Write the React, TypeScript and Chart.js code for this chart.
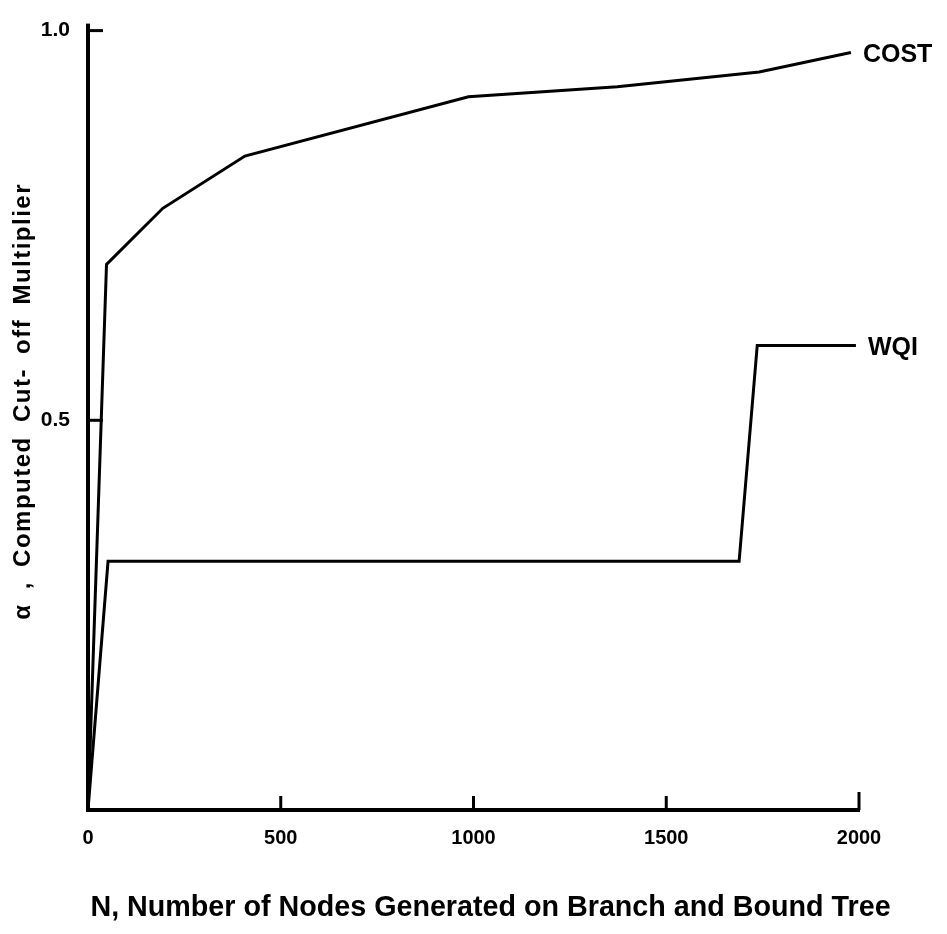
import React, { useEffect, useRef } from 'react';
import { Chart, registerables } from 'chart.js';

Chart.register(...registerables);

// ---- data ----
const costX = [0, 48, 194, 407, 987, 1373, 1741, 1979];
const costY = [0, 0.7, 0.772, 0.839, 0.915, 0.928, 0.947, 0.972];
const wqiX = [0, 52, 1689, 1736, 1992];
const wqiY = [0, 0.319, 0.319, 0.596, 0.596];
const seriesNames = ['COST', 'WQI'];
const xTicks = [0, 500, 1000, 1500, 2000];
const yTicks = [0.5, 1.0];
const xTitle = 'N, Number of Nodes Generated on Branch and Bound Tree';
const yTitle = 'α , Computed Cut- off Multiplier';

const FONT = '"Liberation Sans", Arial, Helvetica, sans-serif';

const toPoints = (xs: number[], ys: number[]) => xs.map((x, i) => ({ x, y: ys[i] }));

const decorPlugin = {
  id: 'decor',
  afterDraw(chart: any) {
    const ctx = chart.ctx as CanvasRenderingContext2D;
    const xs = chart.scales.x;
    const ys = chart.scales.y;
    const area = chart.chartArea;
    ctx.save();
    ctx.strokeStyle = '#000';
    // y axis overshoot above the top tick
    ctx.lineWidth = 4;
    ctx.beginPath();
    ctx.moveTo(area.left, area.top);
    ctx.lineTo(area.left, area.top - 7);
    ctx.stroke();
    // inward tick marks
    ctx.lineWidth = 3;
    yTicks.forEach((v) => {
      const y = ys.getPixelForValue(v);
      ctx.beginPath();
      ctx.moveTo(area.left, y);
      ctx.lineTo(area.left + 15, y);
      ctx.stroke();
    });
    xTicks.filter((v) => v > 0).forEach((v) => {
      const x = xs.getPixelForValue(v);
      ctx.beginPath();
      ctx.moveTo(x, area.bottom);
      ctx.lineTo(x, area.bottom - (v === 2000 ? 18 : 14));
      ctx.stroke();
    });
    // series labels at line ends
    ctx.fillStyle = '#000';
    ctx.font = `bold 25px ${FONT}`;
    ctx.textBaseline = 'middle';
    ctx.textAlign = 'left';
    chart.data.datasets.forEach((ds: any) => {
      const last = ds.data[ds.data.length - 1];
      ctx.fillText(ds.label, xs.getPixelForValue(last.x) + 12, ys.getPixelForValue(last.y) + 3);
    });
    // x axis title
    ctx.font = `bold 28.7px ${FONT}`;
    ctx.textAlign = 'center';
    ctx.fillText(xTitle, (area.left + area.right) / 2 + 17, area.bottom + 98);
    // y axis title
    ctx.translate(23, (area.top + area.bottom) / 2 - 19);
    ctx.rotate(-Math.PI / 2);
    ctx.font = `bold 24px ${FONT}`;
    (ctx as any).letterSpacing = '1.5px';
    (ctx as any).wordSpacing = '6px';
    ctx.fillText(yTitle, 0, 0);
    ctx.restore();
  },
};

export default function App() {
  const canvasRef = useRef<HTMLCanvasElement | null>(null);

  useEffect(() => {
    if (!canvasRef.current) return;
    Chart.defaults.color = '#000';
    const chart = new Chart(canvasRef.current, {
      type: 'line',
      data: {
        datasets: [
          {
            label: seriesNames[0],
            data: toPoints(costX, costY),
            borderColor: '#000',
            borderWidth: 3,
            pointRadius: 0,
            tension: 0,
            fill: false,
          },
          {
            label: seriesNames[1],
            data: toPoints(wqiX, wqiY),
            borderColor: '#000',
            borderWidth: 3,
            pointRadius: 0,
            tension: 0,
            fill: false,
          },
        ],
      },
      options: {
        animation: false,
        responsive: true,
        maintainAspectRatio: false,
        layout: { padding: { top: 20, right: 88, left: 0, bottom: 0 } },
        plugins: { legend: { display: false }, tooltip: { enabled: false } },
        elements: { line: { borderJoinStyle: 'miter', borderCapStyle: 'butt' } },
        scales: {
          x: {
            type: 'linear',
            min: 0,
            max: 2000,
            afterFit: (s: any) => {
              s.height = 124;
            },
            afterBuildTicks: (s: any) => {
              s.ticks = xTicks.map((v) => ({ value: v }));
            },
            ticks: {
              color: '#000',
              padding: 16,
              maxRotation: 0,
              font: { family: FONT, size: 20, weight: 'bold' },
              callback: (v: any) => String(v),
            },
            grid: { display: false, drawTicks: false, tickLength: 0 },
            border: { display: true, color: '#000', width: 4 },
          },
          y: {
            type: 'linear',
            min: 0,
            max: 1,
            afterFit: (s: any) => {
              s.width = 88;
            },
            afterBuildTicks: (s: any) => {
              s.ticks = yTicks.map((v) => ({ value: v }));
            },
            ticks: {
              color: '#000',
              padding: 18,
              font: { family: FONT, size: 21, weight: 'bold' },
              callback: (v: any) => Number(v).toFixed(1),
            },
            grid: { display: false, drawTicks: false, tickLength: 0 },
            border: { display: true, color: '#000', width: 4 },
          },
        },
      },
      plugins: [decorPlugin],
    });
    return () => chart.destroy();
  }, []);

  return (
    <div style={{ position: 'fixed', left: 0, top: 0, width: 947, height: 934, background: '#fff' }}>
      <canvas ref={canvasRef} />
    </div>
  );
}
